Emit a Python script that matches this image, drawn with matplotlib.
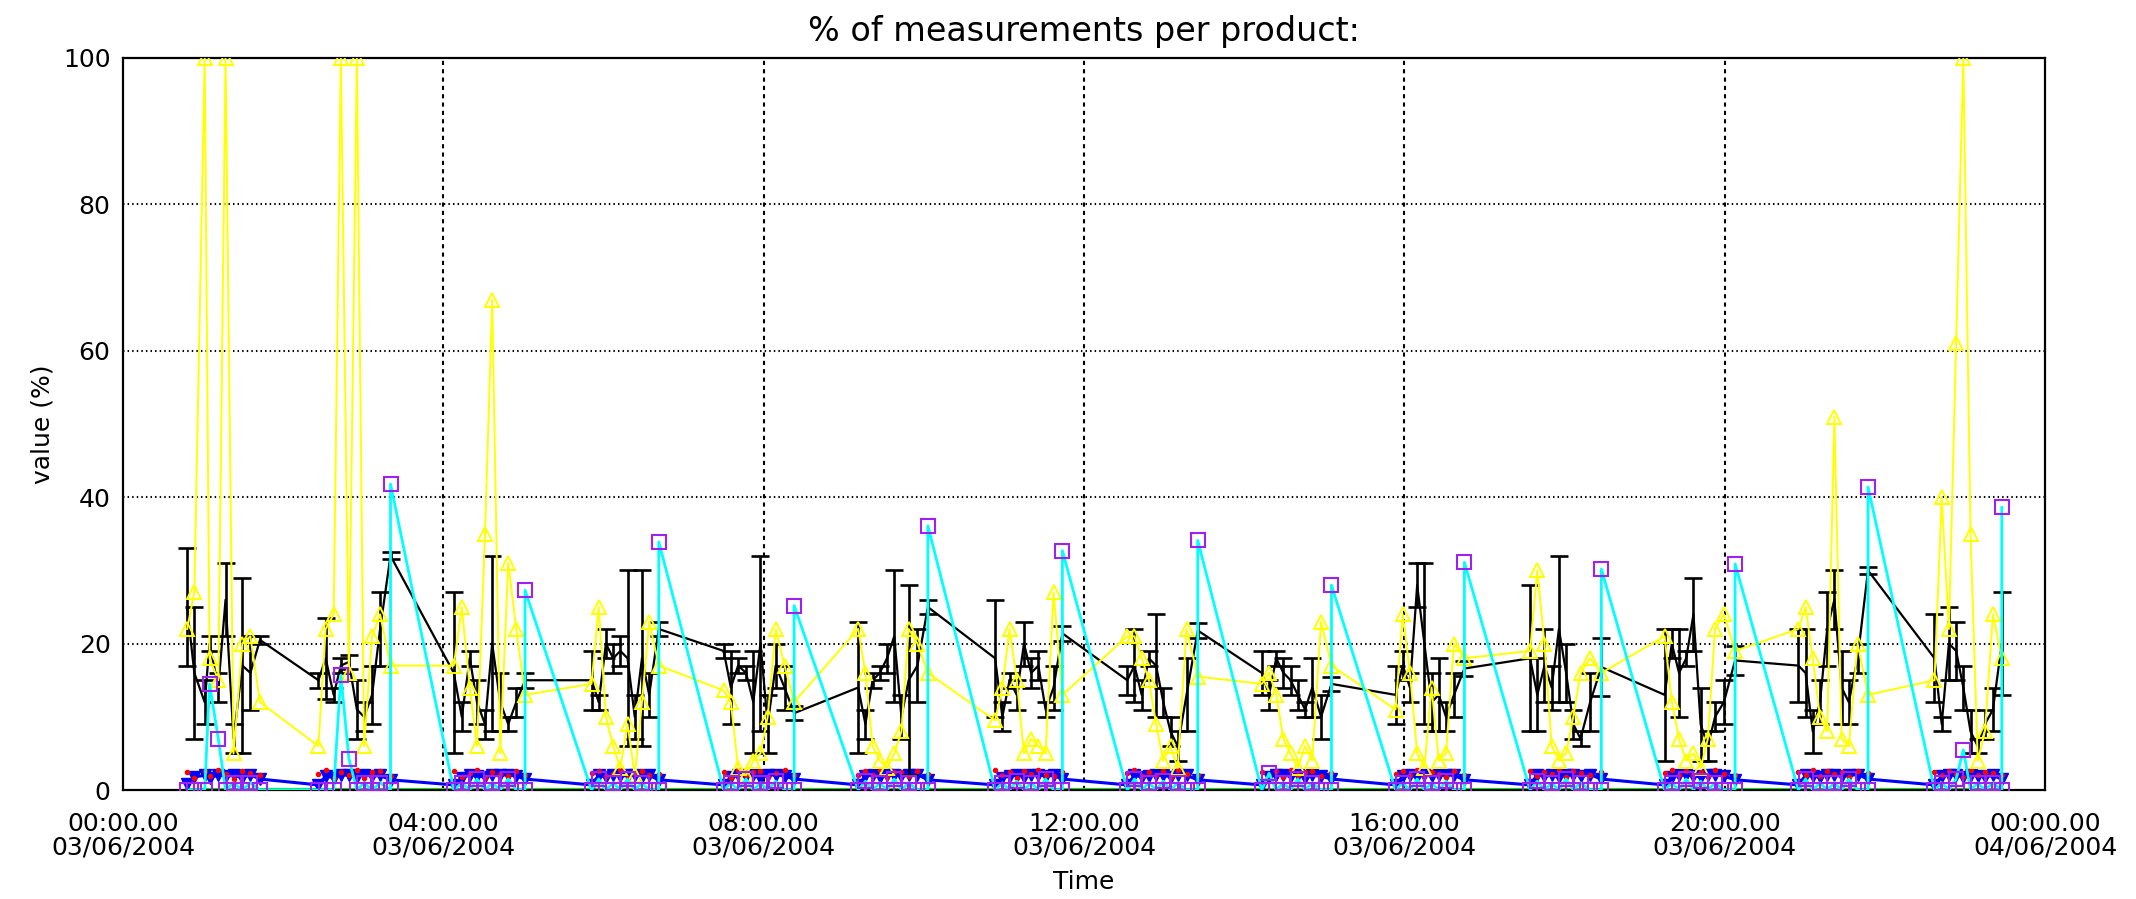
import numpy as np
import matplotlib
matplotlib.use("Agg")
import matplotlib.pyplot as plt

# sample times (hours after 00:00 03/06/2004), one list per pass
pass_times = [
    [0.80, 0.89, 1.02, 1.08, 1.19, 1.28, 1.38, 1.49, 1.59, 1.71],
    [2.44, 2.53, 2.63, 2.72, 2.82, 2.92, 3.01, 3.11, 3.21, 3.34],
    [4.13, 4.23, 4.33, 4.42, 4.52, 4.61, 4.71, 4.81, 4.91, 5.02],
    [5.85, 5.94, 6.03, 6.12, 6.21, 6.30, 6.39, 6.48, 6.57, 6.69],
    [7.50, 7.59, 7.68, 7.78, 7.87, 7.96, 8.05, 8.15, 8.26, 8.38],
    [9.18, 9.27, 9.36, 9.45, 9.54, 9.63, 9.72, 9.81, 9.92, 10.05],
    [10.89, 10.98, 11.07, 11.16, 11.25, 11.34, 11.43, 11.52, 11.62, 11.73],
    [12.54, 12.63, 12.72, 12.81, 12.90, 12.99, 13.08, 13.17, 13.28, 13.42],
    [14.22, 14.31, 14.40, 14.49, 14.58, 14.67, 14.76, 14.85, 14.96, 15.09],
    [15.89, 15.98, 16.07, 16.16, 16.25, 16.34, 16.43, 16.52, 16.62, 16.75],
    [17.57, 17.66, 17.75, 17.84, 17.93, 18.02, 18.11, 18.20, 18.32, 18.46],
    [19.25, 19.34, 19.43, 19.52, 19.61, 19.70, 19.79, 19.88, 19.99, 20.13],
    [20.92, 21.01, 21.10, 21.19, 21.28, 21.37, 21.46, 21.55, 21.66, 21.79],
    [22.62, 22.71, 22.80, 22.89, 22.98, 23.07, 23.16, 23.25, 23.35, 23.46],
]

# mean product share with its spread (black)
mean_val = [
    [25, 16, 12, 20, 14, 26, 7, 17, 16, 20.5],
    [15, 18, 13, 17, 17.5, 11, 10, 13, 22, 32],
    [16, 10, 18, 12, 9, 20, 12, 9, 12, 15],
    [15, 12, 20, 18, 19, 18, 10, 18, 13, 22],
    [19, 14, 17, 16, 12, 20, 9, 17, 14, 10.5],
    [14, 9, 15, 16, 18, 21, 10, 15, 17, 25],
    [18, 10, 15, 13, 20, 16, 17, 11, 14, 21.4],
    [15, 17, 13, 18, 17, 12, 8, 6, 13, 21.8],
    [16, 13, 18, 16, 15, 13, 11, 14, 10, 14.5],
    [13, 17, 14, 28, 20, 12, 13, 10, 13, 16.6],
    [18, 13, 17, 14, 22, 16, 9, 7, 12, 16.8],
    [13, 20, 16, 18, 24, 9, 6, 10, 12, 17.7],
    [17, 16, 8, 12, 22, 26, 14, 12, 18, 30],
    [18, 9, 20, 19, 14, 8, 6, 9, 11, 20],
]
mean_err = [
    [8, 9, 3, 1, 2, 5, 2, 12, 5, 0.5],
    [1, 5.5, 1, 1, 1, 4, 2, 4, 5, 0.5],
    [11, 2, 1, 3, 2, 12, 4, 1, 2, 1],
    [4, 1, 2, 2, 2, 12, 3, 12, 3, 1],
    [1, 5, 1, 1, 7, 12, 4, 3, 3, 1],
    [9, 2, 1, 1, 2, 9, 3, 13, 5, 1],
    [8, 2, 1, 2, 3, 2, 2, 1, 3, 1],
    [2, 5, 2, 1, 7, 2, 2, 2, 5, 1],
    [3, 2, 1, 2, 2, 2, 1, 4, 3, 1],
    [4, 2, 2, 3, 11, 4, 5, 2, 3, 1],
    [10, 5, 5, 3, 10, 4, 2, 1, 4, 4],
    [9, 2, 6, 1, 5, 5, 2, 2, 3, 2],
    [5, 6, 3, 3, 5, 4, 5, 3, 2, 0.5],
    [6, 1, 5, 4, 3, 3, 1, 2, 3, 7],
]

# yellow product
yellow_val = [
    [22, 27, 100, 18, 15, 100, 5, 20, 21, 12],
    [6, 22, 24, 100, 16, 100, 6, 21, 24, 17],
    [17, 25, 14, 6, 35, 67, 5, 31, 22, 13],
    [14.5, 25, 10, 6, 3, 9, 2, 12, 23, 17],
    [13.6, 12, 3, 2, 4, 5, 10, 22, 17, 12],
    [22, 16, 6, 4, 3, 5, 8, 22, 20, 16],
    [9.5, 14, 22, 15, 5, 7, 6, 5, 27, 13],
    [21, 21, 18, 15, 9, 4, 6, 3, 22, 15.5],
    [14.5, 16, 13, 7, 5, 3, 6, 4, 23, 17],
    [11, 24, 16, 5, 3, 14, 4, 5, 20, 18],
    [19, 30, 20, 6, 4, 5, 10, 16, 18, 16],
    [21, 12, 7, 4, 5, 3, 7, 22, 24, 19],
    [22, 25, 18, 10, 8, 51, 7, 6, 20, 13],
    [15, 40, 22, 61, 100, 35, 4, 8, 24, 18],
]

# cyan product (purple squares), plus the value reached at the end of each pass
cyan_val = [
    [0, 0, 0, 14.5, 7, 0, 1, 0, 1, 0],
    [0, 0, 0, 15.7, 4.3, 0, 1, 0, 1, 0],
    [0, 1, 0, 1.5, 0, 1, 0, 1.5, 0, 0],
    [0, 1.5, 0, 1, 0, 1.5, 0, 1, 0, 0],
    [0, 1, 0, 1.5, 0, 1, 0, 1.2, 0, 0],
    [0, 1.2, 0, 1, 0, 1.5, 0, 1, 0, 0],
    [0, 1, 0, 1.2, 0, 1, 0, 1.5, 0, 0],
    [0, 1.5, 0, 1, 0, 1.2, 0, 1, 0, 0],
    [0, 2.3, 0, 1, 0, 1.5, 0, 1, 0, 0],
    [0, 1, 0, 1.5, 0, 1, 0, 1.2, 0, 0],
    [0, 1.2, 0, 1, 0, 1.5, 0, 1, 0, 0],
    [0, 1, 0, 1.5, 0, 1.2, 0, 1, 0, 0],
    [0, 1.5, 0, 1, 0, 1, 0, 1.5, 0, 0],
    [0, 1, 0, 1.5, 5.5, 0, 1, 0, 1, 0],
]
cyan_end = [0, 41.8, 27.3, 33.9, 25.2, 36.1, 32.7, 34.1, 28.0, 31.1, 30.2, 30.9, 41.4, 38.6]

# blue product (filled down triangles)
blue_val = [
    [0.8, 1.8, 2.0, 1.6, 2.1, 1.9, 2.0, 1.7, 2.1, 1.5],
    [0.7, 1.9, 1.7, 2.1, 2.0, 1.8, 2.1, 1.9, 2.0, 1.4],
    [0.7, 1.7, 2.1, 1.9, 1.8, 2.1, 2.0, 2.1, 1.9, 1.5],
    [0.7, 2.0, 1.8, 2.1, 1.9, 2.0, 2.1, 1.8, 2.0, 1.4],
    [0.7, 1.8, 2.0, 1.9, 2.1, 1.7, 2.0, 2.1, 1.9, 1.5],
    [0.7, 1.9, 2.1, 1.8, 2.0, 2.1, 1.9, 2.0, 2.1, 1.4],
    [0.7, 1.7, 1.9, 2.1, 1.8, 2.0, 2.1, 1.9, 2.0, 1.5],
    [0.7, 2.0, 1.8, 1.9, 2.1, 2.0, 1.8, 2.1, 2.0, 1.4],
    [0.7, 1.8, 2.1, 2.0, 1.9, 2.1, 1.7, 2.0, 1.9, 1.5],
    [0.7, 1.9, 2.0, 1.8, 2.1, 1.9, 2.0, 2.1, 2.0, 1.4],
    [0.7, 2.1, 1.9, 2.0, 1.8, 2.0, 2.1, 1.9, 2.1, 1.5],
    [0.7, 1.8, 2.0, 2.1, 1.9, 1.8, 2.0, 2.1, 1.9, 1.4],
    [0.7, 2.0, 1.9, 1.8, 2.1, 2.0, 1.9, 2.0, 2.1, 1.5],
    [0.7, 1.9, 2.1, 2.0, 1.8, 2.1, 1.9, 1.8, 2.0, 1.5],
]

# red product (small dots)
red_val = [
    [2.4, 1.6, 2.6, 1.9, 2.7, 2.2, 1.5, 2.6, 2.3, 2.0],
    [2.2, 2.7, 1.7, 2.5, 2.0, 2.8, 1.6, 2.4, 2.6, 1.9],
    [2.6, 1.8, 2.3, 2.7, 1.6, 2.5, 2.2, 1.9, 2.6, 2.1],
    [2.3, 2.6, 1.9, 2.2, 2.8, 1.7, 2.4, 2.6, 2.0, 2.2],
    [2.5, 1.7, 2.7, 2.1, 2.4, 2.6, 1.8, 2.3, 2.7, 2.0],
    [2.1, 2.6, 2.0, 2.7, 1.8, 2.4, 2.5, 1.9, 2.6, 2.2],
    [2.7, 2.0, 2.4, 1.7, 2.6, 2.2, 2.8, 2.1, 1.9, 2.4],
    [2.3, 2.7, 1.9, 2.5, 2.1, 2.6, 1.8, 2.7, 2.2, 2.0],
    [2.5, 2.1, 2.6, 1.8, 2.7, 2.0, 2.4, 2.6, 1.9, 2.3],
    [2.2, 2.6, 2.1, 2.7, 1.9, 2.5, 2.2, 1.8, 2.6, 2.1],
    [2.6, 1.9, 2.5, 2.2, 2.7, 1.8, 2.6, 2.3, 2.0, 2.4],
    [2.3, 2.7, 2.0, 2.6, 2.1, 2.5, 1.9, 2.7, 2.2, 2.0],
    [2.4, 2.1, 2.7, 1.9, 2.6, 2.2, 2.5, 1.8, 2.6, 2.3],
    [2.5, 2.0, 2.6, 2.2, 1.8, 2.7, 2.1, 2.5, 2.3, 2.0],
]

# green product stays at zero
green_val = [0.0, 0.0, 0.0, 0.0, 0.0, 0.0, 0.0, 0.0, 0.0, 0.0, 0.0, 0.0, 0.0, 0.0]

tick_hours = [0, 4, 8, 12, 16, 20, 24]
tick_labels = ["00:00.00\n03/06/2004", "04:00.00\n03/06/2004", "08:00.00\n03/06/2004",
               "12:00.00\n03/06/2004", "16:00.00\n03/06/2004", "20:00.00\n03/06/2004",
               "00:00.00\n04/06/2004"]
y_ticks = [0, 20, 40, 60, 80, 100]

# flatten passes into continuous series
t_all = np.concatenate(pass_times)
mean_all = np.concatenate(mean_val)
err_all = np.concatenate(mean_err)
yellow_all = np.concatenate(yellow_val)
blue_all = np.concatenate(blue_val)
red_all = np.concatenate(red_val)

cyan_t, cyan_v = [], []
for tt, vv, peak in zip(pass_times, cyan_val, cyan_end):
    cyan_t += list(tt) + [tt[-1]]
    cyan_v += list(vv) + [peak]

green_t, green_v = [], []
for tt, g in zip(pass_times, green_val):
    green_t += [tt[0], tt[-1]]
    green_v += [g, g]

fig = plt.figure(figsize=(21.36, 8.99), dpi=100)
ax = fig.add_axes([0.0576, 0.1212, 0.8998, 0.8143])

ax.plot(green_t, green_v, color="#00ff00", lw=3, zorder=2)
ax.plot(t_all, blue_all, color="#0000ff", lw=2.2, marker="v", ms=8,
        mfc="#0000ff", mec="#0000ff", zorder=3)
ax.plot(t_all, red_all, ls="none", marker="o", ms=3, color="#ff0000", zorder=3)
ax.errorbar(t_all, mean_all, yerr=err_all, color="black", lw=1.6,
            elinewidth=1.9, capsize=6.5, capthick=1.9, zorder=4)
ax.plot(t_all, yellow_all, color="#ffff00", lw=1.4, marker="^", ms=10,
        mfc="none", mec="#ffff00", mew=1.4, zorder=5)
ax.plot(cyan_t, cyan_v, color="#00ffff", lw=2.0, marker="s", ms=10,
        mfc="none", mec="#a020f0", mew=1.5, zorder=6)

ax.set_xlim(0, 24)
ax.set_ylim(0, 100)
ax.set_xticks(tick_hours)
ax.set_xticklabels(tick_labels, fontsize=18, linespacing=0.95)
ax.set_yticks(y_ticks)
ax.set_yticklabels([str(v) for v in y_ticks], fontsize=18)
ax.tick_params(axis="both", length=0)
ax.tick_params(axis="x", pad=16)
ax.tick_params(axis="y", pad=9)

for h in tick_hours[1:-1]:
    ax.axvline(h, color="black", lw=1.5, ls=(0, (2, 2)), zorder=1)
for v in y_ticks[1:-1]:
    ax.axhline(v, color="black", lw=1.5, ls=(0, (0.7, 1.5)), zorder=1)

for s in ax.spines.values():
    s.set_linewidth(1.6)

ax.set_title("% of measurements per product:", fontsize=24, pad=12)
ax.set_xlabel("Time", fontsize=18, labelpad=8)
ax.set_ylabel("value (%)", fontsize=18, labelpad=6)

fig.savefig("out.png", dpi=100)
